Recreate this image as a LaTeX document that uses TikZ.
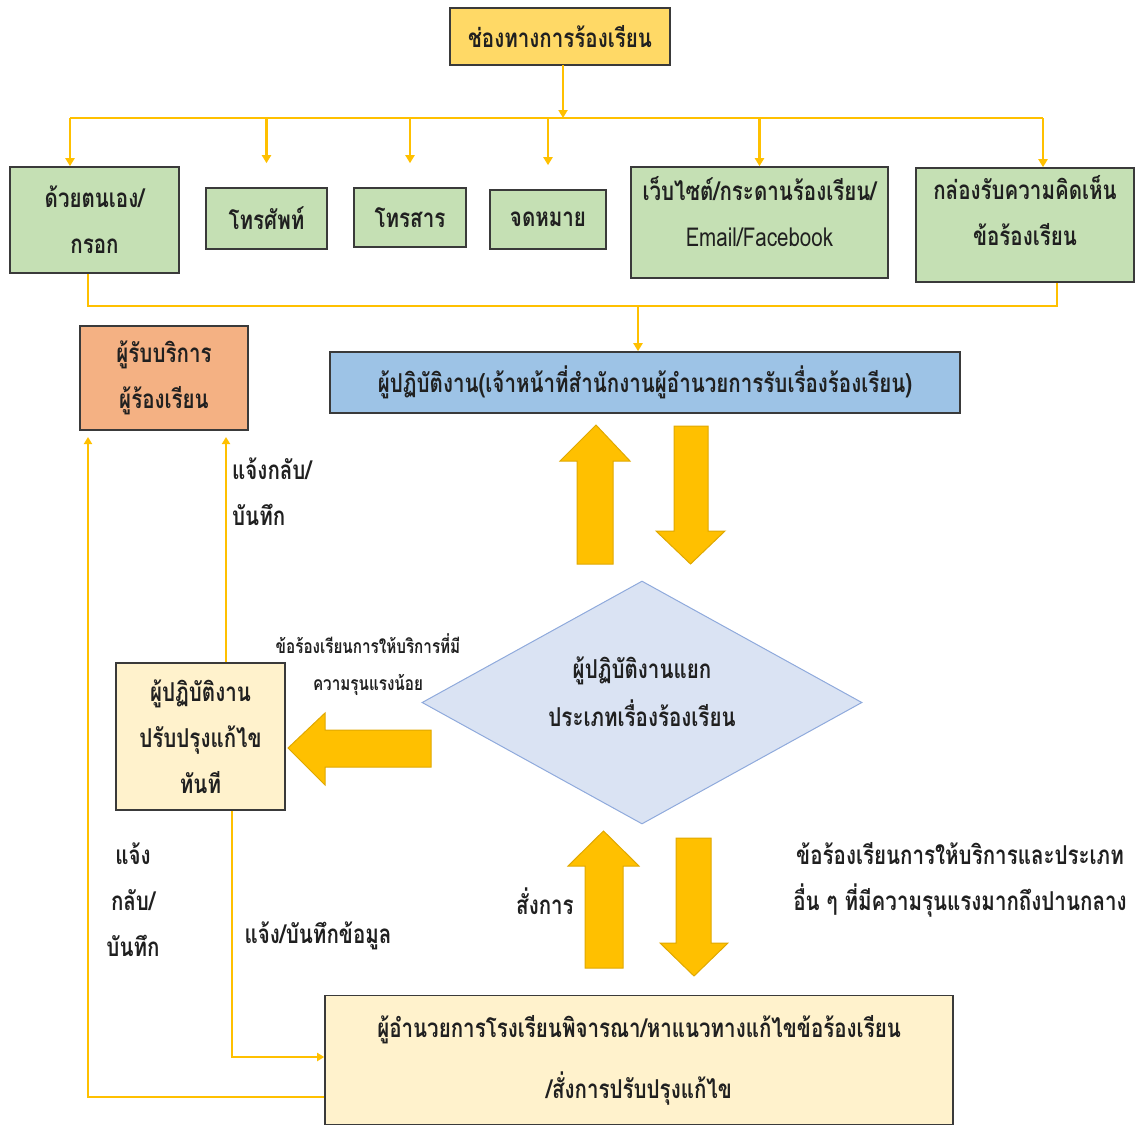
\documentclass[tikz,border=0pt]{standalone}
\usepackage{fontspec}
\setmainfont[Script=Thai,FakeStretch=0.79]{Loma}
\usetikzlibrary{arrows.meta,shapes.geometric}
\definecolor{gold}{HTML}{FFD966}
\definecolor{gboxc}{HTML}{C5E0B4}
\definecolor{bboxc}{HTML}{9DC3E6}
\definecolor{oboxc}{HTML}{F4B183}
\definecolor{yboxc}{HTML}{FFF2CC}
\definecolor{dfill}{HTML}{DAE3F3}
\definecolor{dline}{HTML}{8FAADC}
\definecolor{arr}{HTML}{FFC000}
\definecolor{arrline}{HTML}{E0A800}
\definecolor{bord}{HTML}{3A3A3A}
\definecolor{txt}{HTML}{202020}
\begin{document}
\begin{tikzpicture}[x=1pt,y=-1pt,
  box/.style={draw=bord,line width=1.6pt,inner sep=0pt,align=center,text=txt,font=\fontsize{26}{46}\selectfont\bfseries},
  conn/.style={draw=arr,line width=2.6pt,-{Triangle[width=9pt,length=8pt]}},
  connb/.style={draw=arr,line width=2.6pt},
  thinc/.style={draw=arr,line width=2pt,-{Triangle[width=8pt,length=7pt]}},
  lbl/.style={text=txt,align=center,inner sep=0pt,font=\fontsize{26}{46}\selectfont\bfseries},
  blk/.style={fill=arr,draw=arrline,line width=1pt}]
\useasboundingbox (0,0) rectangle (1137,1124);
% boxes
\node[box,fill=gold,minimum width=220,minimum height=57] (top) at (560,36.5) {ช่องทางการร้องเรียน};
\node[box,fill=gboxc,minimum width=169,minimum height=106] (b1) at (94.5,220) {ด้วยตนเอง/\\กรอก};
\node[box,fill=gboxc,minimum width=121,minimum height=61] (b2) at (266.5,218.5) {โทรศัพท์};
\node[box,fill=gboxc,minimum width=112,minimum height=59] (b3) at (410,217.5) {โทรสาร};
\node[box,fill=gboxc,minimum width=116,minimum height=59] (b4) at (548,219.5) {จดหมาย};
\node[box,fill=gboxc,minimum width=257,minimum height=111] (b5) at (759.5,222.5) {};
\node[lbl] (b5t) at (759.5,212) {เว็บไซต์/กระดานร้องเรียน/\\{\mdseries Email/Facebook}};
\node[box,fill=gboxc,minimum width=218,minimum height=114] (b6) at (1025,225) {};
\node[lbl] (b6t) at (1025,211) {กล่องรับความคิดเห็น\\ข้อร้องเรียน};
\node[box,fill=bboxc,minimum width=630,minimum height=61] (blue) at (645,382.5) {ผู้ปฏิบัติงาน(เจ้าหน้าที่สำนักงานผู้อำนวยการรับเรื่องร้องเรียน)};
\node[box,fill=oboxc,minimum width=168,minimum height=104] (orange) at (164,378) {ผู้รับบริการ\\ผู้ร้องเรียน};
\node[diamond,draw=dline,fill=dfill,line width=1pt,inner sep=0pt,minimum width=440,minimum height=243] (dia) at (642,702.5) {};
\node[lbl,font=\fontsize{26}{48}\selectfont\bfseries] (diat) at (642,692) {ผู้ปฏิบัติงานแยก\\ประเภทเรื่องร้องเรียน};
\node[box,fill=yboxc,minimum width=169,minimum height=147] (yel) at (200.5,736.5) {ผู้ปฏิบัติงาน\\ปรับปรุงแก้ไข\\ทันที};
\node[box,fill=yboxc,minimum width=628,minimum height=129,font=\fontsize{26}{61}\selectfont\bfseries] (bot) at (639,1060) {ผู้อำนวยการโรงเรียนพิจารณา/หาแนวทางแก้ไขข้อร้องเรียน\\/สั่งการปรับปรุงแก้ไข};
% coordinates
\coordinate (bus) at (563,118);
\coordinate (busL) at (70,118);
\coordinate (busR) at (1043,118);
\coordinate (lcol) at (88,306);
\coordinate (rcol) at (1057,306);
\coordinate (col) at (638,306);
\coordinate (o88) at (88,437);
\coordinate (o226) at (226,437);
\coordinate (c1057) at (232,1057);
\coordinate (c1097) at (88,1097);
% tree connectors
\draw[conn] (top.south |- bus) ++(3,-53) -- (bus);
\draw[connb] (busL) -- (busR);
\draw[conn] (busL) -- (busL |- b1.north);
\draw[conn] (b2.north |- busL) -- ([yshift=24]b2.north);
\draw[conn] (b3.north |- busL) -- ([yshift=24]b3.north);
\draw[conn] (b4.north |- busL) -- ([yshift=24]b4.north);
\draw[conn] (b5.north |- busL) -- (b5.north);
\draw[conn] (busR) -- (busR |- b6.north);
\draw[connb] (b1.south -| lcol) -- (lcol) -- (rcol) -- (b6.south -| rcol);
\draw[conn] (col) -- (blue.north -| col);
% lower connectors
\draw[thinc] (yel.north -| o226) -- (o226);
\draw[thinc] (bot.west |- c1097) -- (c1097) -- (o88);
\draw[thinc] (yel.south -| c1057) -- (c1057) -- (bot.west |- c1057);
% block arrows
\draw[blk] (596,425) -- (630,461) -- (613,461) -- (613,564) -- (577,564) -- (577,461) -- (560,461) -- cycle;
\draw[blk] (674,426) -- (708,426) -- (708,531) -- (725,531) -- (690.5,564) -- (656,531) -- (674,531) -- cycle;
\draw[blk] (288,748) -- (325,713) -- (325,730) -- (431,730) -- (431,767) -- (325,767) -- (325,785) -- cycle;
\draw[blk] (603.5,831) -- (639,866) -- (623,866) -- (623,968) -- (585,968) -- (585,866) -- (568,866) -- cycle;
\draw[blk] (676,838) -- (711,838) -- (711,943) -- (728,943) -- (694,976) -- (660,943) -- (676,943) -- cycle;
% labels
\node[lbl,anchor=west,align=left] (l1) at (232,492) {แจ้งกลับ/\\บันทึก};
\node[lbl] (l2) at (133,900) {แจ้ง\\กลับ/\\บันทึก};
\node[lbl] (l3) at (318,936) {แจ้ง/บันทึกข้อมูล};
\node[lbl,font=\fontsize{19.3}{37}\selectfont\bfseries] (l4) at (368,665) {ข้อร้องเรียนการให้บริการที่มี\\ความรุนแรงน้อย};
\node[lbl] (l5) at (545,901) {สั่งการ};
\node[lbl] (l6) at (960,879.5) {ข้อร้องเรียนการให้บริการและประเภท\\อื่น ๆ ที่มีความรุนแรงมากถึงปานกลาง};
\end{tikzpicture}
\end{document}
